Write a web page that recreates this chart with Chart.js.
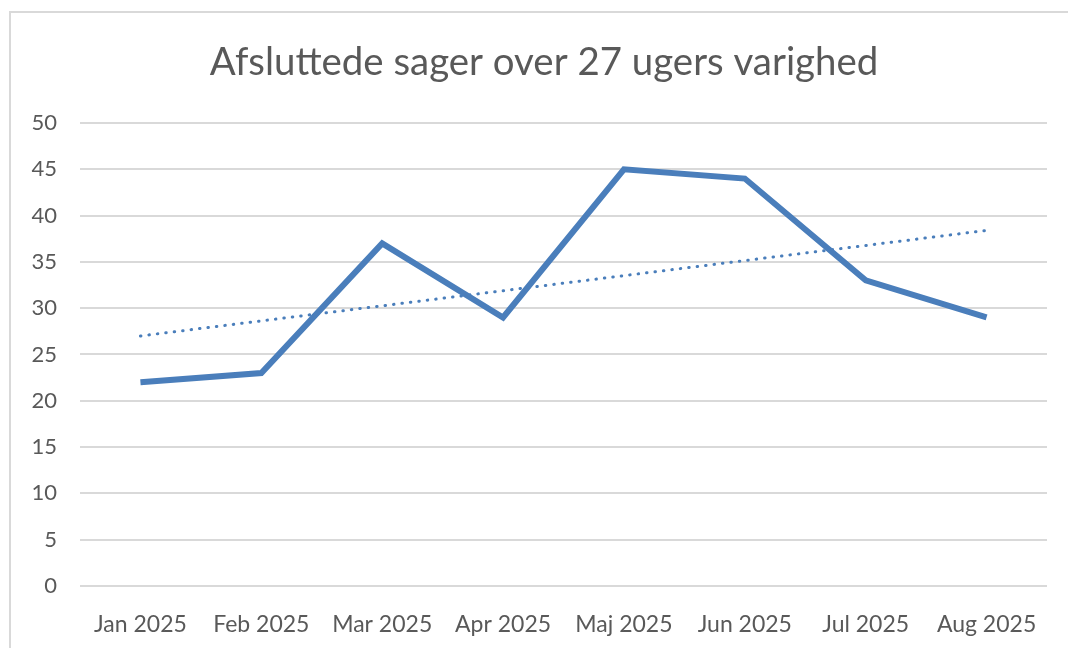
<!DOCTYPE html>
<html>
<head>
<meta charset="utf-8">
<script src="https://cdn.jsdelivr.net/npm/chart.js@4"></script>
<style>
  html, body { margin: 0; padding: 0; background: #fff; overflow: hidden; }
  #frame { position: absolute; left: 9px; top: 11px; width: 1100px; height: 700px; border: 2px solid #d9d9d9; box-sizing: border-box; }
  #wrap { position: absolute; left: 0; top: 0; width: 1068px; height: 648px; }
</style>
</head>
<body>
<div id="frame"></div>
<div id="wrap"><canvas id="c" width="1068" height="648"></canvas></div>
<script>
const titleText = "Afsluttede sager over 27 ugers varighed";
const categories = ["Jan 2025", "Feb 2025", "Mar 2025", "Apr 2025", "Maj 2025", "Jun 2025", "Jul 2025", "Aug 2025"];
const closedCases = [22, 23, 37, 29, 45, 44, 33, 29];
// Trendline endpoints (dotted linear trend)
const trendValues = [27.0, null, null, null, null, null, null, 38.4];
const yTicks = [0, 5, 10, 15, 20, 25, 30, 35, 40, 45, 50];

const textColor = "#595959";
const fontFamily = "Lato, 'Open Sans', sans-serif";

// Shift the title box so it is centred like in the reference
const titleShift = {
  id: "titleShift",
  afterLayout(chart) {
    if (chart.titleBlock) { chart.titleBlock.left = 41; }
  }
};

new Chart(document.getElementById("c"), {
  type: "line",
  data: {
    labels: categories,
    datasets: [
      {
        label: "Afsluttede sager",
        data: closedCases,
        borderColor: "#4a7ebb",
        borderWidth: 6,
        pointRadius: 0,
        tension: 0,
        fill: false,
        order: 1
      },
      {
        label: "Tendens",
        data: trendValues,
        borderColor: "#4a7ebb",
        borderWidth: 3,
        borderDash: [0.5, 8],
        borderCapStyle: "round",
        pointRadius: 0,
        spanGaps: true,
        tension: 0,
        fill: false,
        order: 2
      }
    ]
  },
  plugins: [titleShift],
  options: {
    responsive: false,
    animation: false,
    layout: { padding: { left: 0, right: 21, top: 0, bottom: 0 } },
    plugins: {
      legend: { display: false },
      tooltip: { enabled: false },
      title: {
        display: true,
        text: titleText,
        color: textColor,
        font: { family: fontFamily, size: 38.4, weight: "normal", lineHeight: 1.2 },
        padding: { top: 40, bottom: 36.9 }
      }
    },
    scales: {
      x: {
        offset: true,
        grid: { display: false },
        border: { display: false },
        ticks: {
          color: textColor,
          font: { family: fontFamily, size: 23 },
          padding: 17,
          maxRotation: 0,
          autoSkip: false
        },
        afterFit: (s) => { s.height = 62; }
      },
      y: {
        min: 0,
        max: 50,
        afterBuildTicks: (s) => { s.ticks = yTicks.map(v => ({ value: v })); },
        grid: { color: "#d9d9d9", lineWidth: 2, drawTicks: false },
        border: { display: false },
        ticks: {
          color: textColor,
          font: { family: fontFamily, size: 22 },
          padding: 23
        },
        afterFit: (s) => { s.width = 80; }
      }
    }
  }
});
</script>
</body>
</html>
